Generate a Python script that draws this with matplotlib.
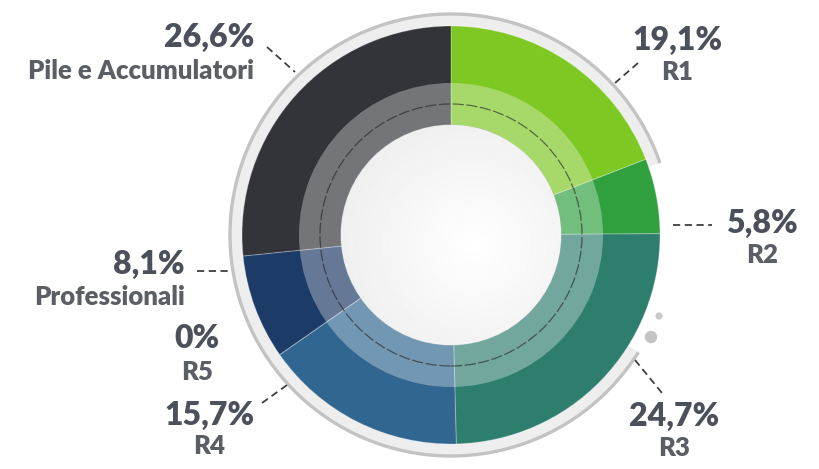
import numpy as np
import matplotlib
matplotlib.use("Agg")
import matplotlib.pyplot as plt
from matplotlib.patches import Wedge, Circle, Arc

# ---- data ----
categories = ["R1", "R2", "R3", "R4", "R5", "Professionali", "Pile e Accumulatori"]
values = [19.1, 5.8, 24.7, 15.7, 0.0, 8.1, 26.6]
value_labels = ["19,1%", "5,8%", "24,7%", "15,7%", "0%", "8,1%", "26,6%"]
colors = ["#7ec824", "#30a03f", "#2e7e6e", "#306690", "#2a5080", "#1d3b67", "#333439"]

# ---- layout (pixel space, y measured from top) ----
W, H = 820, 469
CX, CY = 451, 235
R_OUT = 209

# text anchor: (x, y_pct, y_name, ha)
label_pos = {
    "R1": (677, 40, 72, "center"),
    "R2": (762, 223, 255, "center"),
    "R3": (674, 416, 448, "center"),
    "R4": (209, 415, 446, "center"),
    "R5": (197, 338, 372, "center"),
    "Professionali": (185, 264, 297, "right"),
    "Pile e Accumulatori": (254, 37, 71, "right"),
}
leaders = {
    "R1": ((638, 63), (615, 83)),
    "R2": ((673, 225), (712, 225)),
    "R3": ((635, 360), (662, 393)),
    "R4": ((262, 403), (287, 385)),
    "Professionali": ((197, 271), (232, 271)),
    "Pile e Accumulatori": ((267, 47), (295, 72)),
}

def Y(y):
    return H - y

fig = plt.figure(figsize=(W / 100, H / 100), dpi=100)
ax = fig.add_axes([0, 0, 1, 1])
cy = Y(CY)

# outer light band and grey arc
band = Wedge((CX, cy), 220, 19, 328, width=11, facecolor="#eeeeee", edgecolor="none", zorder=1)
ax.add_patch(band)
arc = Arc((CX, cy), 2 * 221, 2 * 221, theta1=19, theta2=328, color="#c3c3c3", lw=2.4, zorder=2)
ax.add_patch(arc)

# main pie
wedges, _ = ax.pie(values, colors=colors, startangle=90, counterclock=False,
                   radius=R_OUT, center=(CX, cy),
                   wedgeprops=dict(linewidth=0.8, edgecolor=(1, 1, 1, 0.25)))
for w in wedges:
    w.set_zorder(3)

# translucent inner ring
ring = Wedge((CX, cy), 152, 0, 360, width=42, facecolor=(1, 1, 1, 0.32), edgecolor="none", zorder=4)
ax.add_patch(ring)
dash = Circle((CX, cy), 131, fill=False, edgecolor=(0.12, 0.12, 0.12, 0.6), lw=0.9,
              linestyle=(0, (9, 2)), zorder=5)
ax.add_patch(dash)

# center disc with soft gradient
clip = Circle((CX, cy), 110, facecolor="#f5f5f5", edgecolor=(0.8, 0.8, 0.8, 0.6), lw=0.8, zorder=6)
ax.add_patch(clip)
gx = np.linspace(-1, 1, 200)
gy = np.linspace(-1, 1, 200)
GX, GY = np.meshgrid(gx, gy)
grad = 0.935 + 0.065 * np.clip(1 - 0.8 * np.sqrt((GX - 0.2) ** 2 + (GY - 0.1) ** 2), 0, 1)
im = ax.imshow(grad, cmap="gray", vmin=0, vmax=1, extent=(CX - 110, CX + 110, cy - 110, cy + 110),
               zorder=7, interpolation="bilinear")
im.set_clip_path(clip)

# decorative dots
ax.add_patch(Circle((659, Y(316)), 3.6, facecolor="#c9c9c9", edgecolor="none", zorder=2))
ax.add_patch(Circle((651, Y(337)), 6.2, facecolor="#c4c4c4", edgecolor="none", zorder=2))

# labels
pct_color = "#4b505a"
name_color = "#5b5e64"
for cat, vl in zip(categories, value_labels):
    x, yp, yn, ha = label_pos[cat]
    ax.text(x, Y(yp), vl, ha=ha, va="center", fontsize=23, fontweight="heavy",
            family="Lato", color=pct_color, zorder=10)
    ax.text(x, Y(yn), cat, ha=ha, va="center", fontsize=18.5, fontweight="heavy",
            family="Lato", color=name_color, zorder=10)

for cat, (p0, p1) in leaders.items():
    ax.plot([p0[0], p1[0]], [Y(p0[1]), Y(p1[1])], color="#3c3f45", lw=1.3,
            linestyle=(0, (4, 2.5)), zorder=9, solid_capstyle="butt")

ax.set_xlim(0, W)
ax.set_ylim(0, H)
ax.set_aspect("auto")
ax.axis("off")
fig.savefig("out.png", dpi=100, facecolor="white")
